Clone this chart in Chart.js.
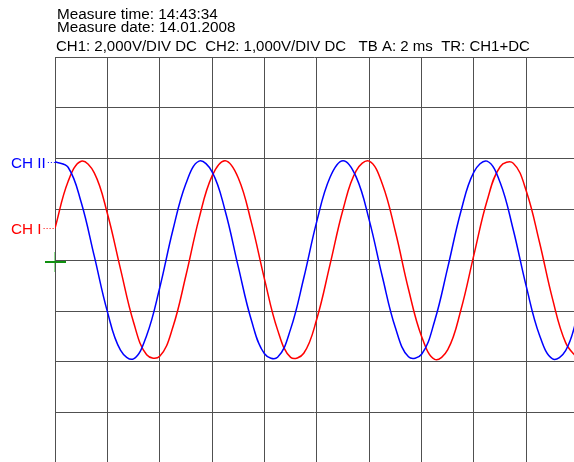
<!DOCTYPE html>
<html>
<head>
<meta charset="utf-8">
<script src="https://cdn.jsdelivr.net/npm/chart.js@4"></script>
<style>
  html, body { margin: 0; padding: 0; background: #fff; }
  canvas { display: block; }
</style>
</head>
<body>
<canvas id="scope" width="574" height="462"></canvas>
<script>
// time axis in divisions (2 ms/div), read every quarter division
const timeDiv = [0, 0.25, 0.5, 0.75, 1, 1.25, 1.5, 1.75, 2, 2.25, 2.5, 2.75, 3, 3.25, 3.5, 3.75,
    4, 4.25, 4.5, 4.75, 5, 5.25, 5.5, 5.75, 6, 6.25, 6.5, 6.75, 7, 7.25, 7.5, 7.75,
    8, 8.25, 8.5, 8.75, 9, 9.25, 9.5, 9.75, 10];

// CH II (blue), in divisions
const ch2Values = [1.94, 1.83, 1.14, 0.08, -1.01, -1.77, -1.94, -1.48, -0.54, 0.59, 1.51, 1.95,
    1.74, 0.97, -0.13, -1.18, -1.84, -1.91, -1.35, -0.35, 0.77, 1.63, 1.96, 1.64,
    0.79, -0.32, -1.33, -1.90, -1.85, -1.19, -0.14, 0.96, 1.74, 1.95, 1.53, 0.60,
    -0.52, -1.47, -1.94, -1.78, -1.02];

// CH I (red), in divisions
const ch1Values = [0.63, 1.55, 1.95, 1.72, 0.92, -0.17, -1.22, -1.86, -1.89, -1.32, -0.30, 0.82,
    1.66, 1.96, 1.62, 0.74, -0.37, -1.37, -1.91, -1.83, -1.15, -0.09, 1.00, 1.76,
    1.95, 1.50, 0.56, -0.57, -1.50, -1.95, -1.76, -0.98, 0.11, 1.17, 1.84, 1.91,
    1.36, 0.36, -0.76, -1.62, -1.96];

const headerLines = ['Measure time: 14:43:34', 'Measure date: 14.01.2008'];
const settingsLine = 'CH1: 2,000V/DIV DC  CH2: 1,000V/DIV DC   TB A: 2 ms  TR: CH1+DC';
const channelLabels = ['CH II', 'CH I'];
const triggerLevel = -0.04;

const FONT = '15.3px "Liberation Sans", Arial, sans-serif';
const SETTINGS_FONT = '15px "Liberation Sans", Arial, sans-serif';

const scopeDecor = {
    id: 'scopeDecor',
    afterDraw(chart) {
        const ctx = chart.ctx;
        const xs = chart.scales.x;
        const ys = chart.scales.y;
        const left = chart.chartArea.left;

        ctx.save();
        ctx.font = FONT;
        ctx.fillStyle = '#000';
        ctx.textAlign = 'left';
        ctx.textBaseline = 'alphabetic';
        ctx.fillText(headerLines[0], 57, 19);
        ctx.fillText(headerLines[1], 57, 32);
        ctx.font = SETTINGS_FONT;
        ctx.fillText(settingsLine, 56, 51);

        // channel reference markers on the left
        ctx.font = FONT;
        let marks = [
            { text: channelLabels[0], v: ch2Values[0], color: '#0000ff' },
            { text: channelLabels[1], v: ch1Values[0], color: '#ff0000' }
        ];
        marks.forEach(m => {
            let py = Math.round(ys.getPixelForValue(m.v)) + 0.5;
            ctx.fillStyle = m.color;
            ctx.textAlign = 'left';
            ctx.textBaseline = 'middle';
            ctx.fillText(m.text, 11, py + 1);
            let end = 11 + ctx.measureText(m.text).width + 2;
            ctx.strokeStyle = m.color;
            ctx.lineWidth = 1;
            ctx.setLineDash([1, 2]);
            ctx.beginPath();
            ctx.moveTo(end, py);
            ctx.lineTo(left, py);
            ctx.stroke();
        });
        ctx.setLineDash([]);

        // trigger level marker
        let tx = Math.round(xs.getPixelForValue(0));
        let ty = Math.round(ys.getPixelForValue(triggerLevel));
        ctx.strokeStyle = '#90e090';
        ctx.lineWidth = 1;
        ctx.beginPath();
        ctx.moveTo(tx - 0.5, ty - 10);
        ctx.lineTo(tx - 0.5, ty + 10);
        ctx.stroke();
        ctx.strokeStyle = '#109010';
        ctx.lineWidth = 2;
        ctx.beginPath();
        ctx.moveTo(tx - 10, ty);
        ctx.lineTo(tx + 11, ty);
        ctx.stroke();
        ctx.restore();
    }
};

function keepWholeDivs(scale) {
    scale.ticks = scale.ticks.filter(t => Math.abs(t.value - Math.round(t.value)) < 1e-6);
}

const gridOpts = { color: '#505050', lineWidth: 1, drawTicks: false };

new Chart(document.getElementById('scope').getContext('2d'), {
    type: 'line',
    data: {
        labels: timeDiv,
        datasets: [
            {
                label: 'CH II',
                data: ch2Values,
                borderColor: '#0000ff',
                borderWidth: 1.5,
                pointRadius: 0,
                tension: 0.4,
                fill: false
            },
            {
                label: 'CH I',
                data: ch1Values,
                borderColor: '#ff0000',
                borderWidth: 1.5,
                pointRadius: 0,
                tension: 0.4,
                fill: false
            }
        ]
    },
    options: {
        responsive: false,
        animation: false,
        devicePixelRatio: 1,
        layout: { padding: { left: 55, top: 57, right: 0, bottom: 0 } },
        plugins: { legend: { display: false }, tooltip: { enabled: false } },
        scales: {
            x: {
                type: 'linear',
                min: 0,
                max: 9.91,
                ticks: { display: false, stepSize: 1 },
                afterBuildTicks: keepWholeDivs,
                grid: gridOpts,
                border: { display: false }
            },
            y: {
                min: -3.97,
                max: 4,
                ticks: { display: false, stepSize: 1 },
                afterBuildTicks: keepWholeDivs,
                grid: gridOpts,
                border: { display: false }
            }
        }
    },
    plugins: [scopeDecor]
});
</script>
</body>
</html>
